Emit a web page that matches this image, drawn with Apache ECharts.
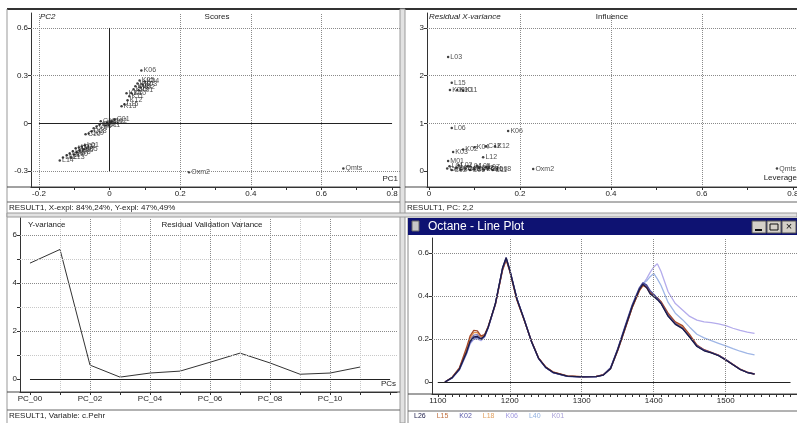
<!DOCTYPE html>
<html>
<head>
<meta charset="utf-8">
<script src="https://cdn.jsdelivr.net/npm/echarts@6/dist/echarts.min.js"></script>
<style>html,body{margin:0;padding:0;background:#fff}#main{width:797px;height:423px}</style>
</head>
<body>
<div id="main"></div>
<script>
// scores (PC1 / PC2)
var scoreNames = ['K06','K05','K04','K07','K03','K08','K02','K09','K01','K10','K11','K12','L15','K13','K14',
  'C01','C02','C03','C04','C05','C06','C07','C08','C09','C10','C11','C12',
  'L01','L02','L03','L04','L05','L06','L07','L08','L09','L10','L11','L12','L13','L14',
  'Oxm2','Qmts'];
var scorePC1 = [0.090,0.085,0.099,0.079,0.093,0.073,0.087,0.068,0.082,0.062,0.056,0.051,0.042,0.034,0.048,
  0.014,0.006,-0.006,-0.017,-0.028,-0.037,-0.045,-0.051,-0.059,-0.068,-0.011,-0.025,
  -0.070,-0.079,-0.087,-0.096,-0.073,-0.085,-0.104,-0.093,-0.113,-0.101,-0.121,-0.132,-0.110,-0.141,
  0.225,0.662];
var scorePC2 = [0.333,0.270,0.264,0.250,0.245,0.233,0.226,0.214,0.208,0.190,0.170,0.145,0.120,0.107,0.190,
  0.025,0.013,0.006,0.000,-0.006,-0.019,-0.031,-0.050,-0.063,-0.069,-0.013,0.013,
  -0.138,-0.145,-0.151,-0.157,-0.164,-0.170,-0.176,-0.182,-0.189,-0.195,-0.201,-0.214,-0.214,-0.233,
  -0.308,-0.283];

// influence (leverage / residual X-variance)
var inflNames = ['L03','L15','K09','K10','K11','L06','K06','K03','K02','K04','C12','K12','L12','M01',
  'C01','C02','C03','C04','C05','C06','C07','C08','C09','C10','C11','L01','L02','L04','L05','L07','L08',
  'Oxm2','Qmts'];
var inflLev = [0.042,0.050,0.046,0.062,0.075,0.050,0.174,0.053,0.075,0.100,0.125,0.145,0.119,0.042,
  0.040,0.050,0.060,0.070,0.080,0.090,0.100,0.110,0.120,0.130,0.140,0.045,0.065,0.085,0.105,0.125,0.150,
  0.229,0.765];
var inflRes = [2.39,1.85,1.70,1.70,1.69,0.90,0.84,0.40,0.45,0.50,0.52,0.52,0.29,0.21,
  0.05,0.02,0.06,0.03,0.05,0.02,0.04,0.06,0.03,0.05,0.02,0.10,0.12,0.10,0.11,0.08,0.04,
  0.04,0.05];

// residual validation variance
var pcIndex = [0,1,2,3,4,5,6,7,8,9,10,11];
var valVariance = [4.83,5.40,0.58,0.08,0.25,0.33,0.70,1.08,0.67,0.20,0.25,0.50];

// spectra (line plot)
var wavelengths = [1110,1120,1130,1140,1145,1150,1155,1160,1165,1170,1180,1190,1195,1200,1210,1220,1230,1240,1250,1260,
  1280,1300,1320,1330,1340,1350,1360,1370,1380,1385,1390,1395,1400,1405,1410,1420,1430,1440,1450,1460,
  1470,1480,1490,1500,1510,1520,1530,1540];
var specL26 = [0.000,0.020,0.060,0.140,0.190,0.210,0.212,0.200,0.215,0.255,0.365,0.530,0.578,0.520,0.385,0.290,0.190,0.110,0.068,0.045,
  0.027,0.024,0.025,0.032,0.062,0.150,0.250,0.350,0.430,0.455,0.440,0.410,0.398,0.383,0.365,0.305,0.268,0.248,0.208,0.165,
  0.145,0.135,0.122,0.102,0.080,0.058,0.044,0.037];
var specL15 = [0.000,0.022,0.065,0.160,0.215,0.240,0.238,0.215,0.220,0.258,0.360,0.520,0.568,0.515,0.380,0.288,0.192,0.112,0.070,0.047,
  0.028,0.025,0.026,0.034,0.064,0.148,0.245,0.345,0.425,0.450,0.440,0.415,0.402,0.392,0.375,0.320,0.280,0.262,0.220,0.172,
  0.150,0.138,0.125,0.104,0.082,0.060,0.046,0.038];
var specK02 = [0.000,0.019,0.058,0.135,0.185,0.205,0.208,0.198,0.212,0.252,0.362,0.528,0.575,0.522,0.388,0.292,0.190,0.110,0.067,0.044,
  0.026,0.024,0.025,0.033,0.066,0.155,0.258,0.358,0.438,0.462,0.452,0.425,0.408,0.390,0.368,0.310,0.272,0.250,0.210,0.168,
  0.148,0.137,0.124,0.104,0.081,0.059,0.045,0.038];
var specL18 = [0.000,0.021,0.063,0.150,0.205,0.230,0.230,0.210,0.218,0.256,0.360,0.522,0.570,0.518,0.382,0.288,0.190,0.111,0.069,0.046,
  0.027,0.025,0.026,0.033,0.063,0.146,0.246,0.345,0.425,0.448,0.440,0.418,0.405,0.388,0.370,0.315,0.276,0.255,0.214,0.170,
  0.148,0.137,0.124,0.103,0.081,0.059,0.045,0.037];
var specK06 = [0.000,0.018,0.055,0.130,0.178,0.198,0.200,0.192,0.208,0.250,0.360,0.525,0.572,0.520,0.385,0.290,0.188,0.108,0.066,0.043,
  0.026,0.024,0.025,0.032,0.060,0.145,0.245,0.345,0.425,0.455,0.480,0.510,0.535,0.550,0.515,0.420,0.365,0.335,0.305,0.288,
  0.280,0.276,0.270,0.262,0.250,0.240,0.232,0.226];
var specL40 = [0.000,0.019,0.057,0.133,0.182,0.202,0.205,0.195,0.210,0.252,0.362,0.528,0.575,0.522,0.386,0.291,0.189,0.109,0.067,0.044,
  0.026,0.024,0.025,0.032,0.061,0.147,0.248,0.348,0.430,0.458,0.470,0.490,0.505,0.480,0.450,0.370,0.320,0.290,0.255,0.222,
  0.205,0.192,0.180,0.168,0.155,0.143,0.133,0.126];
var specK01 = [0.000,0.020,0.061,0.145,0.196,0.218,0.220,0.205,0.216,0.254,0.364,0.532,0.580,0.524,0.387,0.291,0.191,0.111,0.068,0.045,
  0.027,0.024,0.025,0.033,0.064,0.152,0.253,0.352,0.433,0.458,0.447,0.420,0.404,0.386,0.368,0.308,0.270,0.250,0.210,0.167,
  0.147,0.136,0.124,0.103,0.080,0.058,0.044,0.037];

var FONT = 'Liberation Sans';

function valAxis(grid, min, max, ticks, labels, fmt) {
  return {
    gridIndex: grid, type: 'value', min: min, max: max,
    axisLine: {show: true, onZero: false, lineStyle: {color: '#333', width: 1}},
    axisTick: {show: true, customValues: ticks, length: 3, lineStyle: {color: '#333'}},
    axisLabel: {customValues: labels, fontFamily: FONT, fontSize: 8, color: '#222', margin: 3,
      formatter: fmt || function (v) { return String(v); }},
    splitLine: {show: false}
  };
}

function dotted(list, color) {
  return list.map(function (d) {
    return Object.assign({lineStyle: {type: 'dotted', color: color || '#8a8a8a', width: 1}}, d);
  });
}
function solidSeg(a, b) {
  var ls = {type: 'solid', color: '#222', width: 1};
  return [{coord: a, lineStyle: ls}, {coord: b, lineStyle: ls}];
}
function markLines(data) {
  return {silent: true, symbol: ['none', 'none'], label: {show: false}, animation: false, data: data};
}

var tickTL = [-0.2,-0.1,0,0.1,0.2,0.3,0.4,0.5,0.6,0.7,0.8];
var tickTR = [0,0.1,0.2,0.3,0.4,0.5,0.6,0.7,0.8];
var tickBR = [];
for (var t = 1100; t <= 1590; t += 10) tickBR.push(t);

function pts(xs, ys, names) {
  return xs.map(function (x, i) { return {name: names[i], value: [x, ys[i]]}; });
}
function pairs(xs, ys) {
  return xs.map(function (x, i) { return [x, ys[i]]; });
}

var specSeries = [
  ['K06', specK06, '#b4acec'],
  ['L40', specL40, '#9fb6e6'],
  ['K01', specK01, '#7f76b8'],
  ['L18', specL18, '#e0904e'],
  ['L15', specL15, '#a4482a'],
  ['K02', specK02, '#48489a'],
  ['L26', specL26, '#1c1c48']
];
var legendOrder = ['L26','L15','K02','L18','K06','L40','K01'];
var legendColor = {L26:'#1c1c48', L15:'#c07040', K02:'#5858a8', L18:'#e0a060', K06:'#a098e0', L40:'#90b0e0', K01:'#a8a0d8'};

var series = [
  {
    type: 'scatter', xAxisIndex: 0, yAxisIndex: 0, data: pts(scorePC1, scorePC2, scoreNames),
    symbolSize: 2.5, itemStyle: {color: '#111'}, silent: true,
    label: {show: true, position: 'right', distance: 1, formatter: '{b}', fontFamily: FONT, fontSize: 7, color: '#222'},
    markLine: markLines(dotted([{yAxis: 0.6}, {yAxis: 0.3}, {yAxis: -0.3},
      {xAxis: -0.2}, {xAxis: 0.2}, {xAxis: 0.4}, {xAxis: 0.6}]).concat([
      solidSeg([0, 0.6], [0, -0.3]), solidSeg([-0.2, 0], [0.8, 0])]))
  },
  {
    type: 'scatter', xAxisIndex: 1, yAxisIndex: 1, data: pts(inflLev, inflRes, inflNames),
    symbolSize: 2.5, itemStyle: {color: '#111'}, silent: true,
    label: {show: true, position: 'right', distance: 1, formatter: '{b}', fontFamily: FONT, fontSize: 7, color: '#222'},
    markLine: markLines(dotted([{yAxis: 1}, {yAxis: 2}, {yAxis: 3},
      {xAxis: 0.2}, {xAxis: 0.4}, {xAxis: 0.6}]).concat([
      solidSeg([0, 0], [0.81, 0])]))
  },
  {
    type: 'line', xAxisIndex: 2, yAxisIndex: 2, data: pairs(pcIndex, valVariance),
    symbol: 'none', lineStyle: {color: '#333', width: 1}, silent: true,
    markLine: markLines(dotted([{yAxis: 1}, {yAxis: 3}, {yAxis: 5}, {xAxis: 1}, {xAxis: 3}, {xAxis: 5},
      {xAxis: 7}, {xAxis: 9}, {xAxis: 11}], '#c8c8c8').concat(dotted([{yAxis: 2}, {yAxis: 4}, {yAxis: 6},
      {xAxis: 2}, {xAxis: 4}, {xAxis: 6}, {xAxis: 8}, {xAxis: 10}])).concat([
      solidSeg([0, 0], [12, 0])]))
  }
];
specSeries.forEach(function (s, i) {
  var ser = {
    name: s[0], type: 'line', xAxisIndex: 3, yAxisIndex: 3, data: pairs(wavelengths, s[1]),
    symbol: 'none', lineStyle: {color: s[2], width: 1.3}, itemStyle: {color: s[2]}, silent: true
  };
  if (i === 0) {
    ser.markLine = markLines(dotted([{yAxis: 0.2}, {yAxis: 0.4}, {yAxis: 0.6},
      {xAxis: 1200}, {xAxis: 1300}, {xAxis: 1400}, {xAxis: 1500}]).concat([
      solidSeg([1100, 0], [1590, 0])]));
  }
  series.push(ser);
});

function line(x1, y1, x2, y2, c, w) {
  return {type: 'line', shape: {x1: x1, y1: y1, x2: x2, y2: y2}, style: {stroke: c || '#555', lineWidth: w || 1}, silent: true};
}
function text(x, y, s, opt) {
  opt = opt || {};
  return {type: 'text', x: x, y: y, silent: true, z: 10,
    style: {text: s, fill: opt.fill || '#222', align: opt.align || 'left', verticalAlign: 'middle',
      font: (opt.style || '') + ' ' + (opt.size || 8) + 'px ' + FONT}};
}

var graphics = [
  line(7, 9, 797, 9, '#333', 2),
  line(7, 9, 7, 423, '#999'),
  {type: 'rect', shape: {x: 400, y: 9, width: 5, height: 414}, style: {fill: '#e2e2e2', stroke: '#9a9a9a', lineWidth: 1}, silent: true},
  {type: 'rect', shape: {x: 7, y: 213, width: 790, height: 4}, style: {fill: '#e2e2e2', stroke: '#9a9a9a', lineWidth: 1}, silent: true},
  // axis bands
  line(7, 187, 400, 187, '#444'), line(7, 202, 400, 202, '#666'),
  line(405, 187, 797, 187, '#444'), line(405, 202, 797, 202, '#666'),
  line(7, 392, 400, 392, '#444'), line(7, 410, 400, 410, '#666'),
  // panel texts
  text(40, 17, 'PC2', {style: 'italic'}), text(217, 17, 'Scores', {align: 'center'}), text(398, 179, 'PC1', {align: 'right'}),
  text(429, 17, 'Residual X-variance', {style: 'italic'}), text(612, 17, 'Influence', {align: 'center'}),
  text(797, 178, 'Leverage', {align: 'right'}),
  text(28, 225, 'Y-variance'), text(212, 225, 'Residual Validation Variance', {align: 'center'}),
  text(396, 384, 'PCs', {align: 'right'}),
  text(9, 208, 'RESULT1, X-expl: 84%,24%, Y-expl: 47%,49%'),
  text(407, 208, 'RESULT1, PC: 2,2'),
  text(9, 416, 'RESULT1, Variable: c.Pehr'),
  // line plot window
  line(408, 218, 408, 423, '#888'),
  {type: 'rect', shape: {x: 408, y: 218, width: 389, height: 17}, style: {fill: '#0e1272'}, silent: true},
  {type: 'rect', shape: {x: 412, y: 221, width: 7, height: 10}, style: {fill: '#c8c8c8', stroke: '#666'}, silent: true},
  text(428, 227, 'Octane - Line Plot', {fill: '#ffffff', size: 12}),
  {type: 'rect', shape: {x: 752, y: 221, width: 14, height: 12}, style: {fill: '#d4d0c8', stroke: '#555'}, silent: true},
  {type: 'rect', shape: {x: 767, y: 221, width: 14, height: 12}, style: {fill: '#d4d0c8', stroke: '#555'}, silent: true},
  {type: 'rect', shape: {x: 782, y: 221, width: 14, height: 12}, style: {fill: '#d4d0c8', stroke: '#555'}, silent: true},
  line(755, 230, 762, 230, '#111', 2),
  {type: 'rect', shape: {x: 770, y: 224, width: 8, height: 6}, style: {fill: 'none', stroke: '#111'}, silent: true},
  text(789, 227, '\u00d7', {align: 'center', size: 11, fill: '#111'}),
  line(408, 394, 797, 394, '#444'), line(408, 411, 797, 411, '#666')
];

var option = {
  animation: false,
  backgroundColor: '#ffffff',
  grid: [
    {left: 31, top: 13, width: 369, height: 174, outerBoundsMode: 'none'},
    {left: 427, top: 13, width: 370, height: 174, outerBoundsMode: 'none'},
    {left: 20, top: 218, width: 377, height: 174, outerBoundsMode: 'none'},
    {left: 432, top: 238, width: 365, height: 156, outerBoundsMode: 'none'}
  ],
  xAxis: [
    valAxis(0, -0.2225, 0.8225, tickTL, [-0.2, 0, 0.2, 0.4, 0.6, 0.8]),
    valAxis(1, -0.0044, 0.809, tickTR, [0, 0.2, 0.4, 0.6, 0.8]),
    valAxis(2, -0.333, 12.23, [0,1,2,3,4,5,6,7,8,9,10,11,12], [0, 2, 4, 6, 8, 10],
      function (v) { return 'PC_' + (v < 10 ? '0' : '') + v; }),
    valAxis(3, 1092, 1599, tickBR, [1100, 1200, 1300, 1400, 1500])
  ],
  yAxis: [
    valAxis(0, -0.4, 0.694, [-0.3, 0, 0.3, 0.6], [-0.3, 0, 0.3, 0.6]),
    valAxis(1, -0.336, 3.315, [0, 1, 2, 3], [0, 1, 2, 3]),
    valAxis(2, -0.54, 6.71, [0,1,2,3,4,5,6], [0, 2, 4, 6]),
    valAxis(3, -0.056, 0.67, [0, 0.2, 0.4, 0.6], [0, 0.2, 0.4, 0.6])
  ],
  legend: {
    left: 409, top: 413, itemWidth: 0, itemHeight: 0, itemGap: 6, padding: 0, selectedMode: false,
    textStyle: {fontFamily: FONT, fontSize: 7},
    data: legendOrder.map(function (n) { return {name: n, icon: 'rect', textStyle: {color: legendColor[n]}}; })
  },
  graphic: {elements: graphics},
  series: series
};

var chart = echarts.init(document.getElementById('main'));
chart.setOption(option);
</script>
</body>
</html>
